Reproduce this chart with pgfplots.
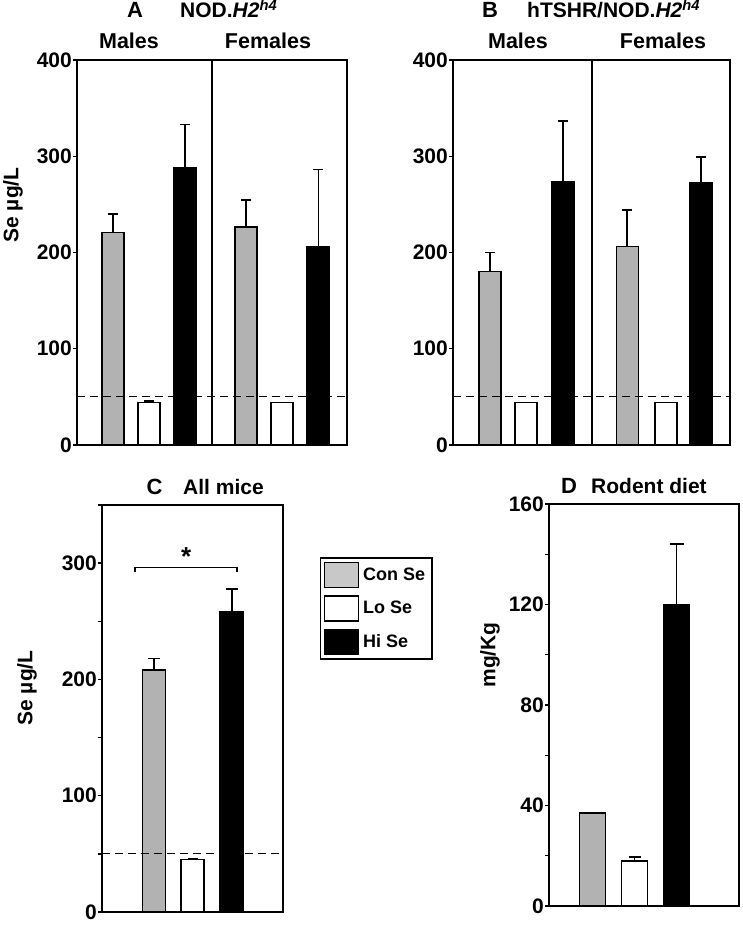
\documentclass[border=0pt]{standalone}
\usepackage{fontspec}
\setmainfont{Liberation Sans}
\usepackage{pgfplots}
\pgfplotsset{compat=1.18}

\definecolor{barg}{HTML}{B2B2B2}
\definecolor{legg}{HTML}{C8C8C8}
\newcommand{\fs}[1]{\fontsize{#1}{#1}\selectfont\bfseries}

\pgfplotsset{
 panel/.style={
  scale only axis, anchor=south west,
  axis line style={line width=1.6pt},
  xtick=\empty,
  ytick pos=left,
  tick align=outside,
  major tick length=4pt, minor tick length=4pt,
  every tick/.style={black, line width=1.3pt},
  /pgf/number format/assume math mode=true,
  yticklabel style={font=\fs{21}, inner sep=1pt},
  ymin=0,
 },
 bar/.style={ybar, bar shift=0pt, draw=black, line width=1.5pt, forget plot,
   error bars/y dir=plus, error bars/y explicit,
   error bars/error bar style={line width=1.8pt, black},
   error bars/error mark options={rotate=90, line width=1.8pt, black, mark size=#1}},
 bar/.default=5pt,
 nobar/.style={ybar, bar shift=0pt, draw=black, line width=1.5pt, forget plot},
 detlim/.style={black, line width=1pt, dash pattern=on 8pt off 5pt, forget plot},
}

\begin{document}
\begin{tikzpicture}
\path[use as bounding box] (0,0) rectangle (742pt,925pt);

% ---------- Panel A
\begin{axis}[panel, at={(77pt,480pt)}, width=270pt, height=385pt,
  xmin=0, xmax=7.5, ymax=400, ytick={0,100,200,300,400}]
\addplot[bar, fill=barg, bar width=0.61] table[y error index=2] {
1 221 19
4.7 226.5 28
};
\addplot[bar, fill=white, bar width=0.61] table[y error index=2] {
2 44 2
};
\addplot[nobar, fill=white, bar width=0.61] table {
5.7 44
};
\addplot[bar, fill=black, bar width=0.61] table[y error index=2] {
3 288 45
};
\addplot[ybar, bar shift=0pt, draw=black, line width=1.5pt, forget plot, fill=black, bar width=0.61,
   error bars/y dir=plus, error bars/y explicit,
   error bars/error bar style={line width=1pt, black},
   error bars/error mark options={rotate=90, line width=1pt, black, mark size=5pt}] table[y error index=2] {
6.7 206 80
};
\addplot[detlim] coordinates {(0,50) (7.5,50)};
\addplot[black, line width=1.5pt, forget plot] coordinates {(3.75,0) (3.75,400)};
\end{axis}

% ---------- Panel B
\begin{axis}[panel, at={(453pt,480pt)}, width=277pt, height=385pt,
  xmin=0, xmax=7.5, ymax=400, ytick={0,100,200,300,400}]
\addplot[bar, fill=barg, bar width=0.6] table[y error index=2] {
1 180 20
4.72 206 38
};
\addplot[nobar, fill=white, bar width=0.6] table {
1.98 44
5.77 44
};
\addplot[bar, fill=black, bar width=0.6] table[y error index=2] {
2.98 273 64
6.71 272 27
};
\addplot[detlim] coordinates {(0,50) (7.5,50)};
\addplot[black, line width=1.5pt, forget plot] coordinates {(3.77,0) (3.77,400)};
\end{axis}

% ---------- Panel C
\begin{axis}[panel, at={(102pt,13pt)}, width=181pt, height=407pt,
  xmin=0, xmax=4.65, ymax=350, ytick={0,100,200,300}, minor ytick={50,150,250,350},
  legend image code/.code={\draw[#1] (0pt,-12.5pt) rectangle (34pt,12.5pt);},
  legend style={at={(1.204,0.872)}, anchor=north west, draw=black, line width=1.5pt,
    font=\fs{18}, row sep=7pt, inner xsep=3pt, inner ysep=4pt,
    cells={anchor=west}, nodes={inner xsep=4pt}},
  legend entries={Con Se, Lo Se, Hi Se}]
\addlegendimage{fill=legg, draw=black, line width=1.4pt}
\addlegendimage{fill=white, draw=black, line width=1.4pt}
\addlegendimage{fill=black, draw=black, line width=1.4pt}
\addplot[bar=6pt, fill=barg, bar width=0.59] table[y error index=2] {
1.33 208 10
};
\addplot[bar=5pt, fill=white, bar width=0.59] table[y error index=2] {
2.33 45 1
};
\addplot[bar=6pt, fill=black, bar width=0.59] table[y error index=2] {
3.33 258 20
};
\addplot[detlim] coordinates {(0,50) (4.65,50)};
\addplot[black, line width=1.3pt, forget plot] coordinates {(0.85,292) (0.85,296) (3.47,296) (3.47,292)};
\node[font=\fs{26}] at (axis cs:2.16,306) {*};
\end{axis}

% ---------- Panel D
\begin{axis}[panel, at={(549pt,19pt)}, width=190pt, height=402pt,
  xmin=0, xmax=4.524, ymax=160, ytick={0,40,80,120,160}, minor ytick={20,60,100,140}]
\addplot[nobar, fill=barg, bar width=0.62] table {
1.036 37
};
\addplot[bar=6pt, fill=white, bar width=0.62] table[y error index=2] {
2.036 18 1.5
};
\addplot[bar=7pt, fill=black, bar width=0.62] table[y error index=2] {
3.036 120 24
};
\end{axis}

% ---------- Titles and labels
\node[font=\fs{22}, anchor=base] at (135pt,907pt) {A};
\node[font=\fs{21}, anchor=base west, inner sep=0pt] at (180pt,907pt) {NOD.\textit{H2}\textsuperscript{\textit{h4}}};
\node[font=\fs{21.5}, anchor=base] at (129pt,876pt) {Males};
\node[font=\fs{21.5}, anchor=base] at (268pt,876pt) {Females};

\node[font=\fs{22}, anchor=base] at (490pt,907pt) {B};
\node[font=\fs{21}, anchor=base west, inner sep=0pt] at (527pt,907pt) {hTSHR/NOD.\textit{H2}\textsuperscript{\textit{h4}}};
\node[font=\fs{21.5}, anchor=base] at (518pt,876pt) {Males};
\node[font=\fs{21.5}, anchor=base] at (663pt,876pt) {Females};

\node[font=\fs{22}, anchor=base] at (154.5pt,430pt) {C};
\node[font=\fs{21}, anchor=base west, inner sep=0pt] at (183pt,430pt) {All mice};

\node[font=\fs{22}, anchor=base] at (569pt,431pt) {D};
\node[font=\fs{21}, anchor=base west, inner sep=0pt] at (591pt,431pt) {Rodent diet};

\node[font=\fs{21}, rotate=90] at (13pt,720pt) {Se µg/L};
\node[font=\fs{21}, rotate=90] at (27pt,237pt) {Se µg/L};
\node[font=\fs{21}, rotate=90] at (490pt,270pt) {mg/Kg};
\end{tikzpicture}
\end{document}
